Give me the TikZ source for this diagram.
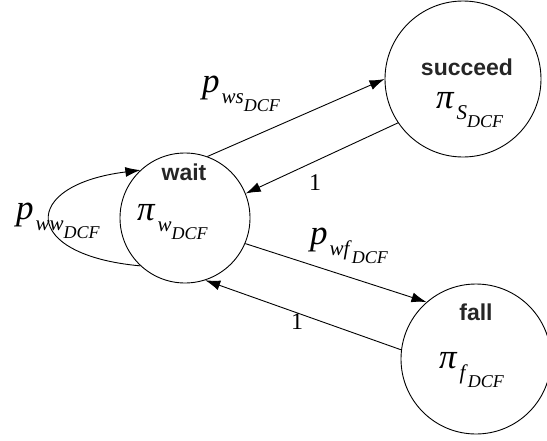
\documentclass[tikz,border=0pt]{standalone}
\usepackage{fontspec}
\setmainfont{Liberation Serif}
\setsansfont{Liberation Sans}
\usetikzlibrary{arrows.meta, positioning}
% symbol with a subscript and a sub-subscript
\newcommand{\sym}[3]{\textit{#1}\hspace{2pt}\raisebox{-11pt}{\fontsize{21}{21}\selectfont\textit{#2}\raisebox{-8pt}{\fontsize{18}{18}\selectfont\textit{#3}}}}

\begin{document}
\begin{tikzpicture}[x=1pt, y=-1pt,
    state/.style = {draw, circle, inner sep=0pt, line width=0.9pt},
    trans/.style = {-{Latex[length=15pt,width=10pt]}, line width=0.9pt},
    title/.style = {font=\fontsize{23}{26}\selectfont\sffamily\bfseries, text=black!85},
    prob/.style  = {font=\fontsize{35}{38}\selectfont, inner sep=0pt, anchor=base west},
    one/.style   = {font=\fontsize{24}{26}\selectfont, inner sep=0pt}]
    \useasboundingbox (0,0) rectangle (547,440);

    % States
    \node[state, minimum size=130pt] (wait)    at (185,218) {};
    \node[state, minimum size=156pt] (succeed) at (463,79)  {};
    \node[state, minimum size=150pt] (fail)    at (476,359) {};

    % State names and stationary probabilities
    \node[title] (waitname)    at (184,172) {wait};
    \node[prob]  (piwait)      at (137,220) {\sym{π}{w}{DCF}};
    \node[title] (succeedname) at (467,67)  {succeed};
    \node[prob]  (pisucceed)   at (436,108) {\sym{π}{S}{DCF}};
    \node[title] (failname)    at (476,312) {fall};
    \node[prob]  (pifail)      at (439,368) {\sym{π}{f}{DCF}};

    % Transitions
    \draw[trans] (wait.70) -- (succeed.180);
    \draw[trans] (succeed.214) -- (wait.22);
    \draw[trans] (wait.-23) -- (fail.131);
    \draw[trans] (fail.173) -- (wait.-72);
    \draw[trans] (wait.227) .. controls (20,255) and (20,185) .. (wait.133);

    % Transition probabilities
    \node[prob] (pws) at (202,92)  {\sym{p}{ws}{DCF}};
    \node[prob] (pwf) at (310,244) {\sym{p}{wf}{DCF}};
    \node[prob] (pww) at (16,219)  {\sym{p}{ww}{DCF}};
    \node[one]  (sw)  at (315,183) {1};
    \node[one]  (fw)  at (297,322) {1};
\end{tikzpicture}
\end{document}
